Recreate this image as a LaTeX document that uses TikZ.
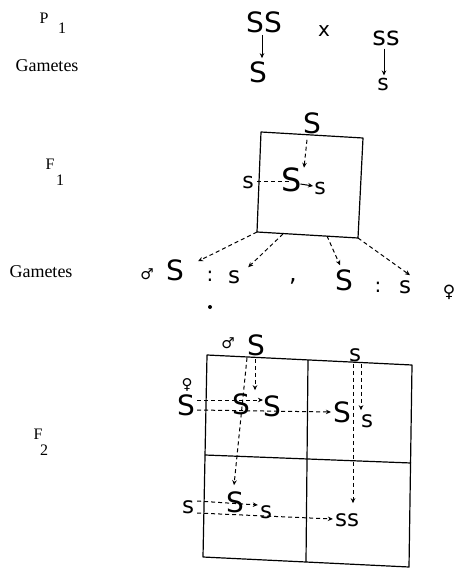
\documentclass[tikz,border=0pt]{standalone}
\usepackage{fontspec}
\setmainfont{Liberation Serif}
\newfontfamily\hand{DejaVu Sans}
\newcommand\hsz[1]{\hand\fontsize{#1}{#1}\selectfont}
\newcommand\rsz[1]{\fontsize{#1}{#1}\selectfont}
\usetikzlibrary{arrows.meta,calc}
\begin{document}
\begin{tikzpicture}[x=1pt,y=-1pt,
  lbl/.style={font=\rsz{16}, inner sep=0},
  glbl/.style={font=\rsz{18}, inner sep=0},
  bigS/.style={font=\hsz{28}, inner sep=0},
  smS/.style={font=\hsz{23}, inner sep=0},
  sym/.style={font=\hsz{15}, inner sep=0},
  punct/.style={font=\hsz{20}, inner sep=0},
  sar/.style={line width=1pt, -{Stealth[length=5pt,width=4.5pt]}},
  dar/.style={line width=1pt, dash pattern=on 4pt off 3pt, -{Stealth[length=5pt,width=4.5pt]}},
  dln/.style={line width=1pt, dash pattern=on 4pt off 3pt},
  boxln/.style={line width=1.2pt, line join=round},
]
\useasboundingbox[fill=white] (0,0) rectangle (455,569);

% ---- left labels
\node[lbl] (P) at (44,18) {P};
\node[lbl] (Pone) at (62,28) {1};
\node[glbl] (gam1) at (47,66) {Gametes};
\node[lbl] (F) at (50,164) {F};
\node[lbl] (Fone) at (60,180) {1};
\node[glbl] (gam2) at (41,272) {Gametes};
\node[lbl] (Ftwo) at (38,434) {F};
\node[lbl] (Ftwosub) at (44,450) {2};

% ---- P1 row
\node[bigS] (p1m) at (264,22) {SS};
\node[punct] (cross) at (324,31) {x};
\node[font=\hsz{26}, inner sep=0] (p1f) at (386,38) {ss};
\node[bigS] (g1m) at (258,72) {S};
\node[font=\hsz{22}, inner sep=0] (g1f) at (383,84) {s};
\draw[sar] ($(p1m.south)+(-2,2)$) -- ($(g1m.north)+(4,-3)$);
\draw[sar] ($(p1f.south)+(-2,3)$) -- ($(g1f.north)+(1,-2)$);

% ---- F1 box
\coordinate (ka) at (261,132);
\coordinate (kb) at (363,138);
\coordinate (kc) at (358,238);
\coordinate (kd) at (257,232);
\draw[boxln] (ka) -- (kb) -- (kc) -- (kd) -- cycle;
\node[bigS] (f1t) at (312,123) {S};
\node[font=\hsz{32}, inner sep=0] (f1m) at (292,180) {S};
\node[font=\hsz{22}, inner sep=0] (f1r) at (320,188) {s};
\node[font=\hsz{22}, inner sep=0] (f1l) at (248,182) {s};
\draw[dar] ($(f1t.south)+(-5,6)$) -- ($(f1m.north)+(12,0)$);
\draw[dln] ($(f1l.east)+(3,0)$) -- ($(f1m.center)+(-3,2)$);
\draw[sar] ($(f1m.east)+(-2,4)$) -- ($(f1r.west)+(-1,-2)$);

% ---- F1 gametes
\coordinate (bb1) at (257,232);
\coordinate (bb2) at (283,234);
\coordinate (bb3) at (327,236);
\coordinate (bb4) at (358,238);
\node[sym] (male1) at (147,274) {♂};
\node[bigS] (gS1) at (175,270) {S};
\node[punct] (col1) at (210,276) {:};
\node[smS] (gs1) at (234,277) {s};
\node[font=\hsz{24}, inner sep=0] (comma) at (293,281) {,};
\node[bigS] (gS2) at (344,280) {S};
\node[punct] (col2) at (378,287) {:};
\node[smS] (gs2) at (405,287) {s};
\node[font=\hsz{17}, inner sep=0] (fem1) at (449,292) {♀};
\node[circle, fill, inner sep=0, minimum size=4pt] (dot) at (210,307) {};
\draw[dar] (bb1) -- ($(gS1.north east)+(14,2)$);
\draw[dar] (bb2) -- ($(gs1.north east)+(8,-3)$);
\draw[dar] (bb3) -- ($(gS2.north)+(-4,-4)$);
\draw[dar] (bb4) -- ($(gs2.north)+(5,-5)$);

% ---- F2 grid
\coordinate (ga) at (207,355);
\coordinate (gb) at (412,365);
\coordinate (gc) at (409,567);
\coordinate (gd) at (203,557);
\coordinate (gmt) at (308,360);
\coordinate (gmb) at (306,562);
\coordinate (gml) at (205,455);
\coordinate (gmr) at (411,463);
\draw[boxln] (ga) -- (gb) -- (gc) -- (gd) -- cycle;
\draw[boxln] (gmt) -- (gmb);
\draw[boxln] (gml) -- (gmr);

\node[sym] (male2) at (228,343) {♂};
\node[bigS] (mS) at (256,345) {S};
\node[smS] (ms) at (355,355) {s};
\node[sym] (fem2) at (187,385) {♀};
\node[bigS] (fS) at (186,405) {S};
\node[bigS] (tl1) at (241,404) {S};
\node[bigS] (tl2) at (272,406) {S};
\node[bigS] (tr1) at (342,412) {S};
\node[smS] (tr2) at (367,421) {s};
\node[smS] (fs) at (188,507) {s};
\node[bigS] (bl1) at (235,502) {S};
\node[smS] (bl2) at (266,512) {s};
\node[smS] (br) at (347,520) {ss};

\draw[dar] ($(mS.south)+(-9,2)$) -- ($(bl1.north)+(-1,-6)$);
\draw[dar] ($(mS.south)+(-1,3)$) -- ($(tl1.north)+(14,-3)$);
\draw[dar] ($(ms.south)+(-2,2)$) -- ($(br.north)+(6,-10)$);
\draw[dar] ($(ms.south)+(6,2)$) -- ($(tr2.north)+(-6,-4)$);
\draw[dar] ($(fS.east)+(2,-5)$) -- ($(tl2.west)+(0,-6)$);
\draw[dar] ($(fS.east)+(2,5)$) -- ($(tr1.west)+(-2,0)$);
\draw[dar] ($(fs.east)+(3,-6)$) -- ($(bl2.west)+(-2,-7)$);
\draw[dar] ($(fs.east)+(3,6)$) -- ($(br.west)+(-2,-1)$);
\end{tikzpicture}
\end{document}
